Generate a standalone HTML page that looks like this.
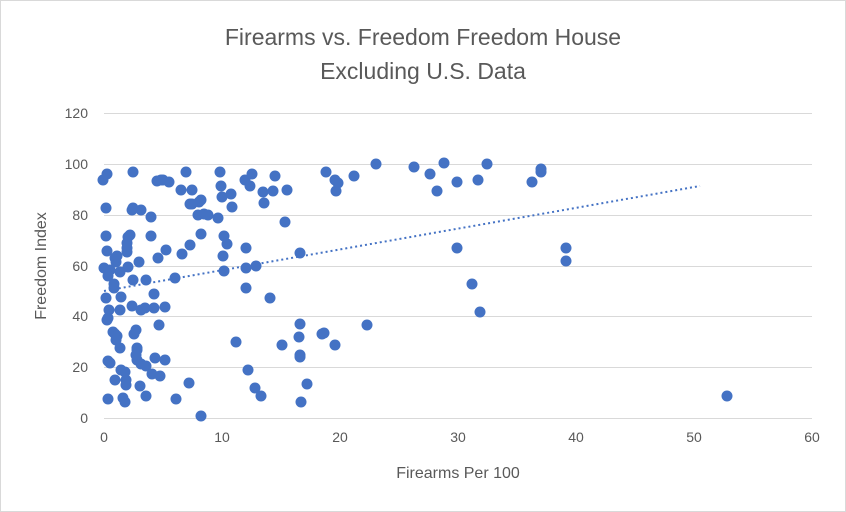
<!DOCTYPE html>
<html><head><meta charset="utf-8"><style>
body{margin:0;background:#fff;}
svg{display:block;font-family:"Liberation Sans",sans-serif;}
</style></head><body>
<svg width="846" height="512" viewBox="0 0 846 512">
<rect x="0.5" y="0.5" width="845" height="511" fill="#fff" stroke="#d9d9d9"/>
<text x="423" y="45" font-size="23" fill="#595959" text-anchor="middle">Firearms vs. Freedom Freedom House</text>
<text x="423" y="79" font-size="23" fill="#595959" text-anchor="middle">Excluding U.S. Data</text>
<g stroke="#d9d9d9" stroke-width="1">
<line x1="104" x2="812" y1="113.5" y2="113.5"/>
<line x1="104" x2="812" y1="164.5" y2="164.5"/>
<line x1="104" x2="812" y1="215.5" y2="215.5"/>
<line x1="104" x2="812" y1="266.5" y2="266.5"/>
<line x1="104" x2="812" y1="316.5" y2="316.5"/>
<line x1="104" x2="812" y1="367.5" y2="367.5"/>
<line x1="104" x2="812" y1="418.5" y2="418.5"/>
</g>
<g font-size="14" fill="#595959" text-anchor="end">
<text x="88" y="118">120</text><text x="88" y="169">100</text><text x="88" y="220">80</text>
<text x="88" y="271">60</text><text x="88" y="321">40</text><text x="88" y="372">20</text><text x="88" y="423">0</text>
</g>
<g font-size="14" fill="#595959" text-anchor="middle">
<text x="104" y="442">0</text><text x="222" y="442">10</text><text x="340" y="442">20</text>
<text x="458" y="442">30</text><text x="576" y="442">40</text><text x="694" y="442">50</text><text x="812" y="442">60</text>
</g>
<text x="458" y="478" font-size="16" fill="#595959" text-anchor="middle">Firearms Per 100</text>
<text transform="translate(46,266) rotate(-90)" font-size="16" fill="#595959" text-anchor="middle">Freedom Index</text>
<line x1="104" y1="291" x2="700" y2="186" stroke="#4472C4" stroke-width="2" stroke-dasharray="2,3"/>
<g fill="#4472C4" id="pts"></g>
</svg>
<script>
var p=[[103,180],[107,174],[106,208],[106,236],[107,251],[104,268],[110,270],[108,276],[106,298],[109,310],[108,318],[107,320],[108,361],[110,363],[108,399],[114,288],[114,284],[116,262],[115,258],[117,256],[113,332],[115,334],[117,336],[116,340],[115,380],[120,272],[121,297],[120,310],[120,348],[121,370],[125,372],[123,398],[125,402],[126,380],[126,385],[127,252],[127,248],[127,243],[128,237],[128,267],[130,235],[132,210],[133,208],[133,172],[133,280],[132,306],[134,334],[136,330],[137,348],[137,350],[136,355],[137,360],[140,386],[141,364],[139,262],[141,310],[141,210],[145,308],[146,280],[146,366],[146,396],[151,217],[151,236],[152,374],[154,294],[154,308],[155,358],[157,181],[158,258],[159,325],[160,376],[161,180],[163,180],[165,307],[165,360],[166,250],[169,182],[175,278],[176,399],[181,190],[182,254],[186,172],[190,204],[190,245],[189,383],[192,190],[192,204],[198,215],[199,202],[201,234],[201,200],[201,416],[204,214],[208,215],[218,218],[220,172],[221,186],[222,197],[223,256],[224,271],[224,236],[227,244],[231,194],[232,207],[236,342],[245,180],[246,248],[246,268],[246,288],[248,370],[250,186],[252,174],[255,388],[256,266],[261,396],[263,192],[264,203],[270,298],[275,176],[273,191],[287,190],[285,222],[282,345],[299,337],[300,324],[300,355],[300,357],[301,402],[300,253],[307,384],[322,334],[326,172],[324,333],[335,345],[335,180],[336,191],[338,183],[354,176],[367,325],[376,164],[414,167],[430,174],[437,191],[444,163],[457,182],[457,248],[472,284],[478,180],[480,312],[487,164],[532,182],[541,169],[541,172],[566,248],[566,261],[727,396]];
var g=document.getElementById('pts'),s='';
p.forEach(function(a){s+='<circle cx="'+a[0]+'" cy="'+a[1]+'" r="5.5"/>';});
g.innerHTML=s;
</script>
</body></html>
